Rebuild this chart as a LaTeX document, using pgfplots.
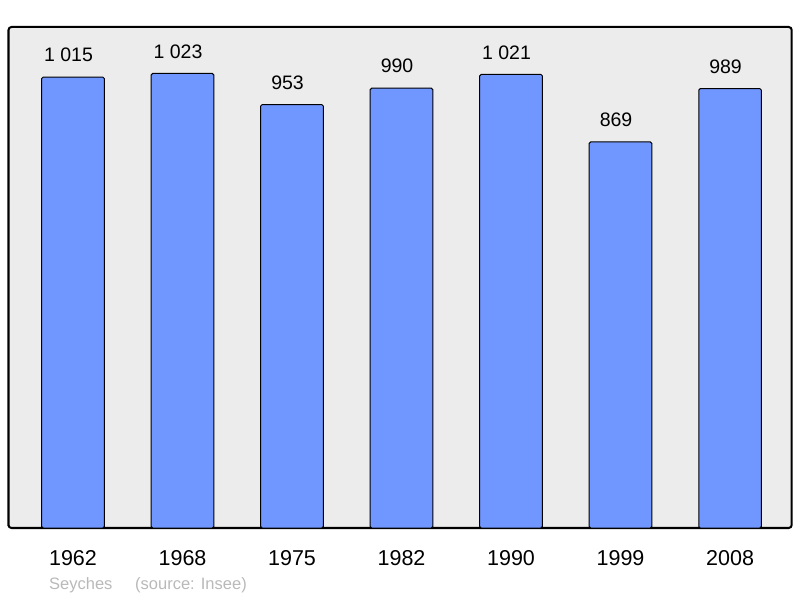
\documentclass[border=0pt]{standalone}
\usepackage{fontspec}
\setmainfont{Liberation Sans}
\usepackage{pgfplots}
\pgfplotsset{compat=1.18}
\definecolor{barblue}{RGB}{112,150,255}
\definecolor{bggray}{RGB}{236,236,236}
\definecolor{srcgray}{RGB}{185,185,185}
\begin{document}
\begin{tikzpicture}
\useasboundingbox (0,0) rectangle (800bp,598bp);
\begin{axis}[
  at={(8.5bp,70bp)}, anchor=south west,
  scale only axis, width=783.2bp, height=501bp,
  xmin=-0.589, xmax=6.563, ymin=0, ymax=1127.6,
  axis background/.style={fill=bggray, rounded corners=3bp},
  axis line style={line width=2bp, rounded corners=3bp},
  ytick=\empty, xtick={0,1,2,3,4,5,6},
  xticklabels={1962,1968,1975,1982,1990,1999,2008},
  major tick length=0pt,
  xticklabel style={font=\fontsize{21.5bp}{24bp}\selectfont, anchor=base, inner sep=0pt, yshift=-37bp},
  ybar, bar width=62.6bp,
  nodes near coords, point meta=explicit symbolic,
  every node near coord/.append style={font=\fontsize{19.5bp}{22bp}\selectfont, anchor=south, inner sep=0pt, yshift=14.5bp, xshift=-4.5bp, black},
]
\addplot[fill=barblue, draw=black, line width=1bp, rounded corners=1.5bp]
  coordinates {(0,1015)[1 015] (1,1023)[1 023] (2,953)[953] (3,990)[990] (4,1021)[1 021] (5,869)[869] (6,989)[989]};
\end{axis}
\node[anchor=base west, inner sep=0pt, text=srcgray, font=\fontsize{16.5bp}{19bp}\selectfont] at (49bp,9bp) {Seyches};
\node[anchor=base west, inner sep=0pt, text=srcgray, font=\fontsize{16.5bp}{19bp}\selectfont] at (135bp,9bp) {(source: Insee)};
\end{tikzpicture}
\end{document}
